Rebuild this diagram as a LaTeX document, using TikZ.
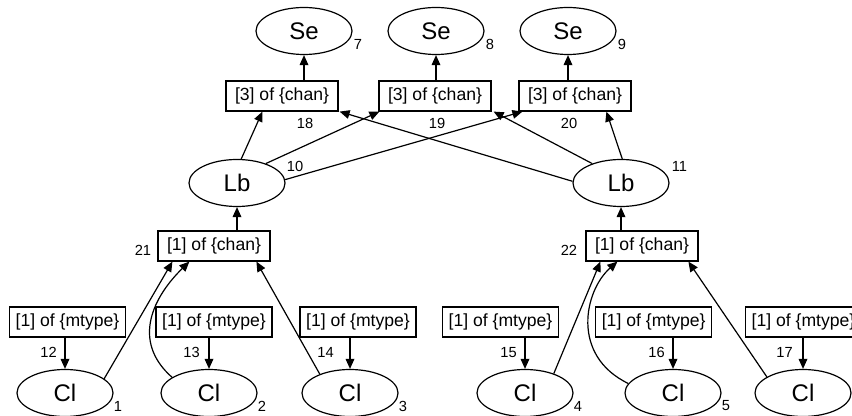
\documentclass[tikz,border=0pt]{standalone}
\usepackage{fontspec}
\setmainfont{Liberation Sans}
\usetikzlibrary{arrows.meta,calc,shapes.geometric}
\begin{document}
\begin{tikzpicture}[x=0.75pt,y=-0.75pt,
  ell/.style={draw, ellipse, line width=0.9pt, minimum width=72pt, minimum height=35.25pt, inner sep=0pt, font=\fontsize{18}{20}\selectfont},
  chanbox/.style={draw, rectangle, line width=0.9pt, minimum width=84pt, minimum height=22.5pt, inner sep=0pt, font=\fontsize{13.2}{15}\selectfont},
  mtbox/.style={chanbox, minimum width=87pt},
  num/.style={inner sep=0pt, font=\fontsize{11}{13}\selectfont},
  arr/.style={line width=0.9pt, -{Triangle[length=7.5pt,width=6.5pt]}}]
\useasboundingbox (0,0) rectangle (852,416);
\fill[white] (0,0) rectangle (852,416);
\clip (0,0) rectangle (852,416);

% ellipses
\node[ell] (se7) at (304,31) {Se};
\node[ell] (se8) at (436,31) {Se};
\node[ell] (se9) at (568,31) {Se};
\node[ell] (lb1) at (237,183) {Lb};
\node[ell] (lb2) at (621,183) {Lb};
\node[ell] (cl1) at (65,393) {Cl};
\node[ell] (cl2) at (209,393) {Cl};
\node[ell] (cl3) at (350,393) {Cl};
\node[ell] (cl4) at (525,393) {Cl};
\node[ell] (cl5) at (673,393) {Cl};
\node[ell] (cl6) at (803,393) {Cl};

% boxes
\node[chanbox] (b18) at (282,96) {[3] of \{chan\}};
\node[chanbox] (b19) at (435,96) {[3] of \{chan\}};
\node[chanbox] (b20) at (575,96) {[3] of \{chan\}};
\node[chanbox] (b21) at (214,246) {[1] of \{chan\}};
\node[chanbox] (b22) at (642,246) {[1] of \{chan\}};
\node[mtbox] (b12) at (67.5,322) {[1] of \{mtype\}};
\node[mtbox] (b13) at (214,322) {[1] of \{mtype\}};
\node[mtbox] (b14) at (358,322) {[1] of \{mtype\}};
\node[mtbox] (b15) at (500.5,322) {[1] of \{mtype\}};
\node[mtbox] (b16) at (653.7,322) {[1] of \{mtype\}};
\node[mtbox] (b17) at (803.5,322) {[1] of \{mtype\}};

% number labels
\node[num, anchor=west] (n7) at ($(se7.east)+(1,13.5)$) {7};
\node[num, anchor=west] (n8) at ($(se8.east)+(1,13.5)$) {8};
\node[num, anchor=west] (n9) at ($(se9.east)+(1,13.5)$) {9};
\node[num, anchor=west] (n10) at ($(lb1.east)+(1,-17)$) {10};
\node[num, anchor=west] (n11) at ($(lb2.east)+(2,-17)$) {11};
\node[num, anchor=west] (n1) at ($(cl1.east)+(0,13)$) {1};
\node[num, anchor=west] (n2) at ($(cl2.east)+(0,13)$) {2};
\node[num, anchor=west] (n3) at ($(cl3.east)+(0,13)$) {3};
\node[num, anchor=west] (n4) at ($(cl4.east)+(0,13)$) {4};
\node[num, anchor=west] (n5) at ($(cl5.east)+(0,13)$) {5};
\node[num, anchor=west] (n6) at ($(cl6.east)+(0,13)$) {6};
\node[num] (n18) at ($(b18.south -| se7)+(1,12)$) {18};
\node[num] (n19) at ($(b19.south -| se8)+(1,12)$) {19};
\node[num] (n20) at ($(b20.south -| se9)+(1,12)$) {20};
\node[num, anchor=east] (n21) at ($(b21.west)+(-6,4)$) {21};
\node[num, anchor=east] (n22) at ($(b22.west)+(-8,4)$) {22};
\node[num, anchor=east] (n12) at ($(b12.south -| cl1)+(-8,15)$) {12};
\node[num, anchor=east] (n13) at ($(b13.south -| cl2)+(-9,15)$) {13};
\node[num, anchor=east] (n14) at ($(b14.south -| cl3)+(-16,15)$) {14};
\node[num, anchor=east] (n15) at ($(b15.south -| cl4)+(-8,15)$) {15};
\node[num, anchor=east] (n16) at ($(b16.south -| cl5)+(-8,15)$) {16};
\node[num, anchor=east] (n17) at ($(b17.south -| cl6)+(-10,15)$) {17};

% box -> ellipse (vertical)
\draw[arr] (b18.north -| se7) -- (se7.south);
\draw[arr] (b19.north -| se8) -- (se8.south);
\draw[arr] (b20.north -| se9) -- (se9.south);
\draw[arr] (b21.north -| lb1) -- (lb1.south);
\draw[arr] (b22.north -| lb2) -- (lb2.south);
\draw[arr] (b12.south -| cl1) -- (cl1.north);
\draw[arr] (b13.south -| cl2) -- (cl2.north);
\draw[arr] (b14.south -| cl3) -- (cl3.north);
\draw[arr] (b15.south -| cl4) -- (cl4.north);
\draw[arr] (b16.south -| cl5) -- (cl5.north);
\draw[arr] (b17.south -| cl6) -- (cl6.north);

% Lb -> chan boxes
\draw[arr] (lb1.80) -- ($(b18.south west)+(37,0)$);
\draw[arr] (lb1.34) -- ($(b19.south west)+(1,0)$);
\draw[arr] (lb1.4) -- ($(b20.south west)+(4,0)$);
\draw[arr] (lb2.178) -- ($(b18.south east)+(1,0)$);
\draw[arr] (lb2.146) -- ($(b19.south east)+(2,0)$);
\draw[arr] (lb2.87) -- ($(b20.south west)+(88,0)$);

% Cl -> chan boxes
\draw[arr] (cl1.20) -- ($(b21.south west)+(15,0)$);
\draw[arr] (cl2.157) .. controls +(-42,-37) and +(-35,34) .. ($(b21.south west)+(32,0)$);
\draw[arr] (cl3.148) -- ($(b21.south west)+(99,0)$);
\draw[arr] (cl4.34) -- ($(b22.south west)+(15,0)$);
\draw[arr] (cl5.168) .. controls +(-58,-28) and +(-33,29) .. ($(b22.south west)+(32,0)$);
\draw[arr] (cl6.156) -- ($(b22.south west)+(103,0)$);
\end{tikzpicture}
\end{document}
